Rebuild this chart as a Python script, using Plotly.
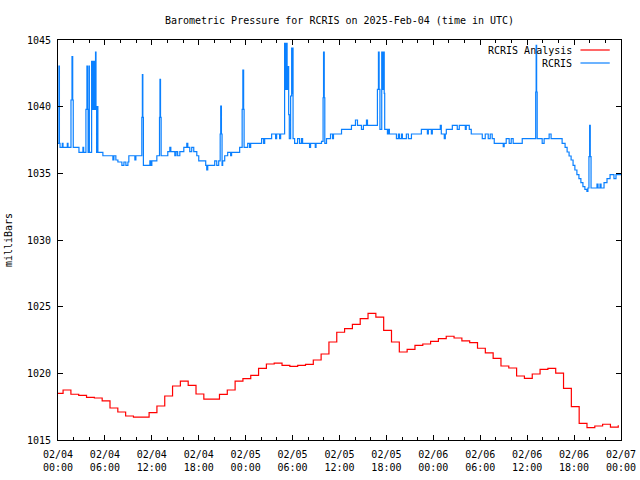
import datetime as dt
import plotly.graph_objects as go

# ---------------- data ----------------
base = dt.datetime(2025, 2, 4, 0, 0)

# RCRIS Analysis (hourly, drawn as steps)
red_hours = [0.0] + [k + 0.65 for k in range(72)]
red_values = [
    1018.5,
    1018.75, 1018.43, 1018.35, 1018.2, 1018.15, 1017.93, 1017.4, 1017.1, 1016.8, 1016.72,
    1016.72, 1017.05, 1017.55, 1018.3, 1019.05, 1019.42, 1019.1, 1018.45, 1018.07, 1018.07,
    1018.42, 1018.75, 1019.42, 1019.6, 1019.85, 1020.37, 1020.7, 1020.77, 1020.6, 1020.52,
    1020.6, 1020.67, 1021.0, 1021.45, 1022.35, 1023.08, 1023.35, 1023.67, 1024.1, 1024.5,
    1024.22, 1023.22, 1022.35, 1021.6, 1021.8, 1022.1, 1022.2, 1022.4, 1022.6, 1022.78,
    1022.65, 1022.43, 1022.3, 1021.88, 1021.53, 1021.12, 1020.55, 1020.4, 1019.8, 1019.62,
    1019.95, 1020.3, 1020.37, 1020.02, 1018.87, 1017.5, 1016.25, 1015.93, 1016.05, 1016.18,
    1015.97, 1016.1,
]

# RCRIS observations (hours since 02/04 00:00 UTC)
blue_hours = [
    0.00, 0.12, 0.18, 0.26, 0.55, 0.64, 1.19, 1.28, 1.66, 1.79, 1.88, 1.95, 2.68, 3.19, 3.28,
    3.57, 3.70, 3.76, 3.85, 3.95, 4.01, 4.30, 4.36, 4.42, 4.48, 4.54, 4.60, 4.66, 4.72, 4.80,
    4.86, 4.94, 5.00, 5.10, 5.74, 7.02, 7.15, 7.40, 7.66, 8.17, 8.43, 8.68, 8.94, 9.06, 9.83,
    9.96, 10.72, 10.79, 10.85, 10.92, 11.75, 11.87, 12.00, 12.64, 12.98, 13.04, 13.11, 13.19,
    14.04, 14.30, 14.43, 14.94, 15.10, 15.30, 15.58, 16.09, 16.47, 16.60, 16.85, 17.10, 17.36,
    17.75, 18.00, 18.89, 19.02, 19.15, 20.04, 20.30, 20.55, 20.74, 20.81, 20.90, 20.98, 21.06,
    21.32, 21.70, 22.08, 22.20, 23.23, 23.55, 23.64, 23.74, 23.80, 24.26, 24.50, 24.64, 26.04,
    26.30, 26.43, 27.32, 27.83, 27.96, 28.34, 28.47, 28.98, 29.04, 29.10, 29.16, 29.22, 29.30,
    29.36, 29.42, 29.50, 29.58, 29.75, 29.88, 29.94, 30.00, 30.06, 30.26, 30.64, 30.90, 31.15,
    31.28, 32.17, 32.30, 32.90, 33.00, 33.70, 33.90, 33.96, 34.05, 34.12, 34.34, 34.85, 35.11,
    35.23, 36.26, 37.53, 38.04, 38.30, 38.81, 39.06, 39.45, 39.58, 40.85, 40.98, 41.07, 41.17,
    41.40, 41.47, 41.53, 41.60, 41.66, 41.72, 41.78, 42.13, 42.26, 42.38, 43.28, 43.53, 43.66,
    43.92, 44.04, 44.55, 44.81, 45.20, 46.47, 47.24, 47.36, 47.75, 47.87, 48.89, 49.02, 49.40,
    49.53, 49.66, 50.43, 51.06, 51.32, 52.09, 52.21, 52.60, 52.85, 54.26, 54.64, 55.02, 55.28,
    55.53, 55.79, 56.94, 57.06, 57.32, 57.70, 57.96, 58.21, 59.37, 61.09, 61.15, 61.21, 61.28,
    61.92, 62.17, 62.81, 63.06, 64.47, 64.85, 65.11, 65.36, 65.62, 65.87, 66.10, 66.36, 66.62,
    66.87, 67.13, 67.38, 67.64, 67.77, 67.90, 67.99, 68.07, 68.17, 68.93, 69.06, 69.32, 69.45,
    69.83, 70.21, 70.60, 71.10, 71.36, 72.00,
]
blue_values = [
    1037.25, 1043.05, 1037.25, 1036.95, 1037.25, 1036.95, 1037.25, 1036.95, 1040.5, 1043.75,
    1040.5, 1036.95, 1036.57, 1036.95, 1036.57,
    1039.8, 1043.05, 1039.8, 1036.57, 1043.05, 1036.57, 1043.4, 1039.8, 1043.4, 1039.8,
    1043.4, 1039.8, 1043.4, 1039.8, 1044.1,
    1039.9, 1036.57, 1040.0, 1036.57, 1036.32, 1036.0, 1036.32, 1036.0, 1035.85, 1035.6,
    1035.85, 1035.6, 1035.85, 1036.32, 1036.0,
    1036.32, 1039.2, 1042.4, 1039.2, 1035.6, 1035.93, 1035.6, 1035.93, 1036.32, 1039.2,
    1042.05, 1039.2, 1036.32,
    1036.63, 1036.95, 1036.63, 1036.32, 1036.63, 1036.32, 1036.63, 1036.95, 1037.25, 1036.95,
    1036.63, 1036.95, 1036.63,
    1036.32, 1035.93, 1035.6, 1035.25, 1035.6, 1035.93, 1035.6, 1035.93, 1037.95, 1040.05,
    1037.95, 1035.6, 1035.93,
    1036.32, 1036.57, 1036.32, 1036.57, 1036.95, 1039.8, 1042.75, 1039.8, 1036.95, 1037.25,
    1036.95, 1037.25, 1037.6,
    1037.25, 1037.6, 1037.95, 1037.6, 1037.95, 1037.6, 1037.95, 1044.75, 1041.3, 1044.75,
    1041.3, 1044.75, 1043.0,
    1041.3, 1043.0, 1039.4, 1037.6, 1040.8, 1044.4, 1041.0, 1044.4, 1037.6, 1037.25, 1037.6,
    1037.25, 1037.6,
    1037.25, 1036.95, 1037.25, 1036.95, 1037.25, 1037.4, 1040.67, 1044.1, 1040.67, 1037.25,
    1037.6, 1037.95, 1037.6,
    1037.95, 1038.3, 1038.6, 1039.0, 1038.6, 1038.3, 1038.6, 1039.0, 1038.6, 1041.3, 1044.1,
    1041.3, 1038.3,
    1044.1, 1041.3, 1044.1, 1041.3, 1044.1, 1041.0, 1038.3, 1037.95, 1038.3, 1037.95, 1037.6,
    1037.95, 1037.6,
    1037.95, 1037.6, 1037.95, 1037.6, 1037.95, 1038.3, 1037.95, 1038.3, 1037.95, 1038.3,
    1038.6, 1037.95, 1037.6,
    1037.95, 1038.3, 1038.6, 1038.3, 1038.6, 1038.3, 1038.6, 1038.3, 1037.95, 1037.6, 1037.95,
    1037.6, 1037.95,
    1037.6, 1037.25, 1037.0, 1037.25, 1037.6, 1037.25, 1037.6, 1037.25, 1037.6, 1041.1,
    1044.6, 1041.1, 1037.6,
    1037.25, 1037.6, 1037.95, 1037.6, 1037.25, 1036.95, 1036.6, 1036.3, 1036.0, 1035.6,
    1035.25, 1034.9, 1034.6,
    1034.3, 1034.0, 1033.8, 1033.65, 1033.9, 1036.25, 1038.6, 1036.25, 1033.9, 1034.2, 1033.9,
    1034.2, 1033.9,
    1034.3, 1034.6, 1034.9, 1034.6, 1034.9, 1034.9,
]

tick_hours = [0, 6, 12, 18, 24, 30, 36, 42, 48, 54, 60, 66, 72]
tick_text = ["02/04<br>00:00", "02/04<br>06:00", "02/04<br>12:00", "02/04<br>18:00",
             "02/05<br>00:00", "02/05<br>06:00", "02/05<br>12:00", "02/05<br>18:00",
             "02/06<br>00:00", "02/06<br>06:00", "02/06<br>12:00", "02/06<br>18:00",
             "02/07<br>00:00"]
y_ticks = [1015, 1020, 1025, 1030, 1035, 1040, 1045]

RED = "#ff0000"
BLUE = "#0a80ff"
FONT = "DejaVu Sans Mono"


def to_time(hours):
    return [base + dt.timedelta(hours=h) for h in hours]


fig = go.Figure()
fig.add_trace(go.Scatter(x=to_time(red_hours), y=red_values, mode="lines",
                         line=dict(color=RED, width=1.2, shape="hv"),
                         name="RCRIS Analysis", showlegend=False))
fig.add_trace(go.Scatter(x=to_time(blue_hours), y=blue_values, mode="lines",
                         line=dict(color=BLUE, width=1.2, shape="hv"),
                         name="RCRIS", showlegend=False))

# legend drawn gnuplot-style (text right-aligned, sample line to its right)
legend_items = [("RCRIS Analysis", RED, 0.975), ("RCRIS", BLUE, 0.9425)]
for label, color, ypos in legend_items:
    fig.add_annotation(xref="paper", yref="paper", x=0.917, y=ypos, text=label,
                       showarrow=False, xanchor="right", yanchor="middle",
                       font=dict(family=FONT, size=10, color="black"))
    fig.add_shape(type="line", xref="paper", yref="paper", x0=0.928, x1=0.98,
                  y0=ypos, y1=ypos, line=dict(color=color, width=1.2))

fig.update_layout(
    width=640, height=480,
    margin=dict(l=58, r=19, t=40, b=40),
    paper_bgcolor="white", plot_bgcolor="white",
    font=dict(family=FONT, size=10, color="black"),
    title=dict(text="Barometric Pressure for RCRIS on 2025-Feb-04 (time in UTC)",
               x=0.5, xref="paper", y=0.958, yanchor="middle",
               font=dict(family=FONT, size=10, color="black")),
)
fig.update_xaxes(
    automargin=False,
    range=[base, base + dt.timedelta(hours=72)],
    tickvals=to_time(tick_hours), ticktext=tick_text,
    ticks="inside", ticklen=5, tickcolor="black", tickwidth=1,
    ticklabelstandoff=5,
    minor=dict(ticks="inside", ticklen=3, dtick=2 * 3600 * 1000, tick0=base,
               tickcolor="black"),
    showline=True, linecolor="black", linewidth=1, mirror="ticks",
    showgrid=False, zeroline=False,
    tickfont=dict(family=FONT, size=10, color="black"),
)
fig.update_yaxes(
    automargin=False,
    range=[1015, 1045], tickvals=y_ticks,
    ticks="inside", ticklen=5, tickcolor="black", tickwidth=1,
    ticklabelstandoff=4,
    showline=True, linecolor="black", linewidth=1, mirror="ticks",
    showgrid=False, zeroline=False,
    title=dict(text="milliBars", font=dict(family=FONT, size=10, color="black"),
               standoff=12),
    tickfont=dict(family=FONT, size=10, color="black"),
)

fig.write_html("out.html")
